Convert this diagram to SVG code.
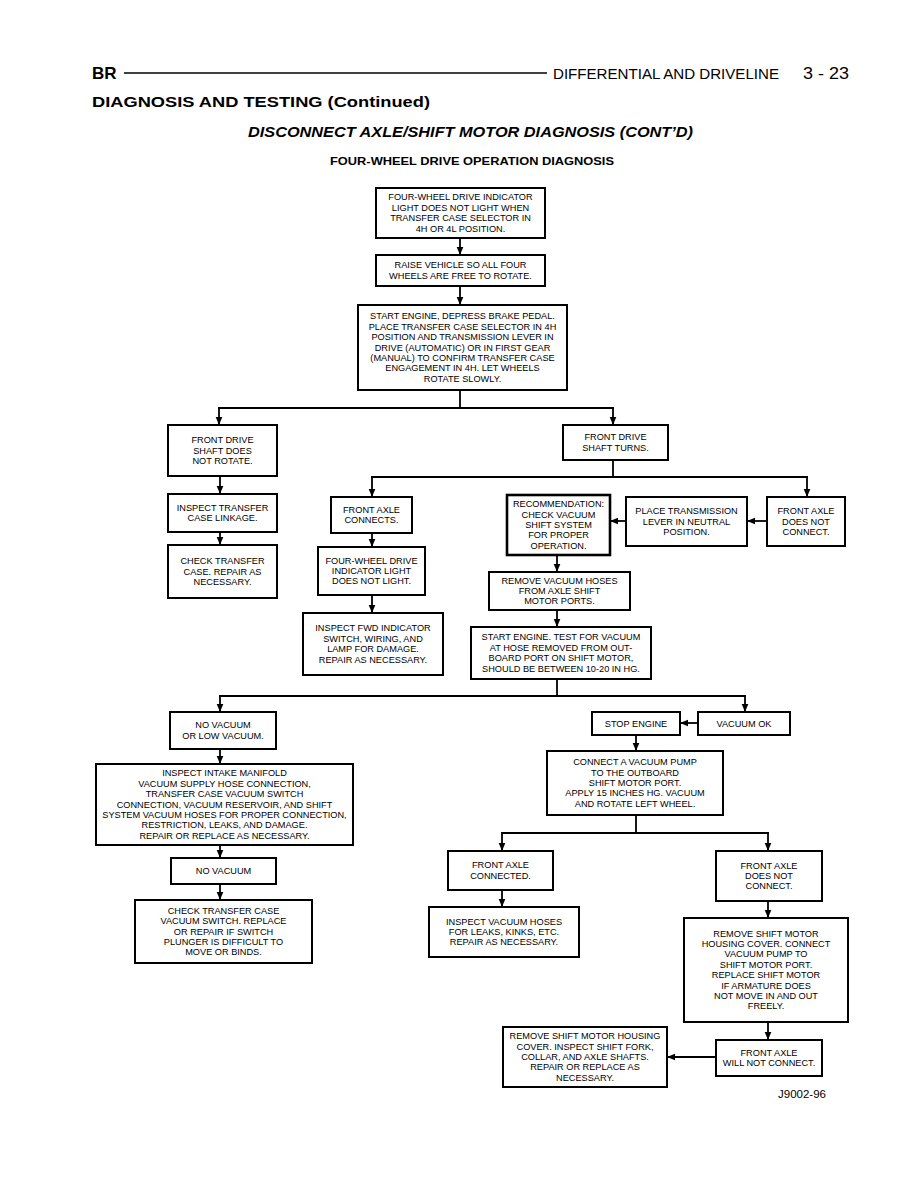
<svg xmlns="http://www.w3.org/2000/svg" width="918" height="1188" viewBox="0 0 918 1188">
<defs>
<marker id="ah" markerUnits="userSpaceOnUse" markerWidth="9" markerHeight="8" refX="8" refY="4" orient="auto">
<path d="M0,0.7 L8,4 L0,7.3 z" fill="#000"/>
</marker>
<style>
.bx{fill:#fff;stroke:#000;stroke-width:2}
.bxt{fill:#fff;stroke:#000;stroke-width:2.6}
.t{font-family:"Liberation Sans",Arial,sans-serif;font-size:9.2px;fill:#000;text-anchor:middle}
.c{fill:none;stroke:#000;stroke-width:1.8}
.a{fill:none;stroke:#000;stroke-width:1.8;marker-end:url(#ah)}
.h{font-family:"Liberation Sans",Arial,sans-serif;font-weight:bold;fill:#000}
</style>
</defs>
<rect width="918" height="1188" fill="#fff"/>
<g id="header">
<text class="h" x="92" y="79" font-size="17">BR</text>
<line x1="124" y1="73" x2="547" y2="73" stroke="#000" stroke-width="1.6"/>
<text x="553" y="79" font-family="Liberation Sans,Arial,sans-serif" font-size="15.5" textLength="226" lengthAdjust="spacingAndGlyphs">DIFFERENTIAL AND DRIVELINE</text>
<text x="803" y="79" font-family="Liberation Sans,Arial,sans-serif" font-size="16" textLength="46" lengthAdjust="spacingAndGlyphs">3 - 23</text>
<text class="h" x="92" y="107" font-size="15" textLength="338" lengthAdjust="spacingAndGlyphs">DIAGNOSIS AND TESTING (Continued)</text>
<text class="h" x="248" y="137" font-size="14" font-style="italic" textLength="445" lengthAdjust="spacingAndGlyphs">DISCONNECT AXLE/SHIFT MOTOR DIAGNOSIS (CONT’D)</text>
<text class="h" x="330" y="165" font-size="11" textLength="284" lengthAdjust="spacingAndGlyphs">FOUR-WHEEL DRIVE OPERATION DIAGNOSIS</text>
</g>
<g id="connectors">
<line class="a" x1="460" y1="238" x2="460" y2="255"/>
<line class="a" x1="460" y1="286" x2="460" y2="305"/>
<polyline class="c" points="460,390 460,408"/>
<polyline class="c" points="218,408 614,408"/>
<line class="a" x1="219" y1="408" x2="219" y2="425"/>
<line class="a" x1="613" y1="408" x2="613" y2="425"/>
<polyline class="c" points="613,460 613,477"/>
<polyline class="c" points="371,477 808,477"/>
<line class="a" x1="372" y1="477" x2="372" y2="497"/>
<line class="a" x1="807" y1="477" x2="807" y2="497"/>
<line class="a" x1="220" y1="476" x2="220" y2="494"/>
<line class="a" x1="220" y1="532" x2="220" y2="545"/>
<line class="a" x1="372" y1="533" x2="372" y2="547"/>
<line class="a" x1="372" y1="595" x2="372" y2="613"/>
<line class="a" x1="767" y1="521" x2="747" y2="521"/>
<line class="a" x1="626" y1="521" x2="610" y2="521"/>
<line class="a" x1="557" y1="555" x2="557" y2="572"/>
<line class="a" x1="557" y1="610" x2="557" y2="627"/>
<polyline class="c" points="557,679 557,696"/>
<polyline class="c" points="219,696 746,696"/>
<line class="a" x1="220" y1="696" x2="220" y2="712"/>
<line class="a" x1="745" y1="696" x2="745" y2="712"/>
<line class="a" x1="220" y1="749" x2="220" y2="764"/>
<line class="a" x1="220" y1="845" x2="220" y2="858"/>
<line class="a" x1="220" y1="884" x2="220" y2="900"/>
<line class="a" x1="698" y1="723" x2="680" y2="723"/>
<line class="a" x1="636" y1="735" x2="636" y2="751"/>
<polyline class="c" points="636,815 636,833"/>
<polyline class="c" points="501,833 769,833"/>
<line class="a" x1="502" y1="833" x2="502" y2="851"/>
<line class="a" x1="768" y1="833" x2="768" y2="851"/>
<line class="a" x1="502" y1="890" x2="502" y2="907"/>
<line class="a" x1="768" y1="901" x2="768" y2="918"/>
<line class="a" x1="768" y1="1022" x2="768" y2="1040"/>
<line class="a" x1="716" y1="1057" x2="667" y2="1057"/>
</g>
<g id="n1"><rect class="bx" x="376" y="188" width="169" height="50"/>
<text class="t" x="460.5" y="200.4">FOUR-WHEEL DRIVE INDICATOR</text>
<text class="t" x="460.5" y="210.8">LIGHT DOES NOT LIGHT WHEN</text>
<text class="t" x="460.5" y="221.2">TRANSFER CASE SELECTOR IN</text>
<text class="t" x="460.5" y="231.6">4H OR 4L POSITION.</text></g>
<g id="n2"><rect class="bx" x="376" y="255" width="169" height="31"/>
<text class="t" x="460.5" y="268.3">RAISE VEHICLE SO ALL FOUR</text>
<text class="t" x="460.5" y="278.7">WHEELS ARE FREE TO ROTATE.</text></g>
<g id="n3"><rect class="bx" x="358" y="305" width="209" height="85"/>
<text class="t" x="462.5" y="319.3">START ENGINE, DEPRESS BRAKE PEDAL.</text>
<text class="t" x="462.5" y="329.7">PLACE TRANSFER CASE SELECTOR IN 4H</text>
<text class="t" x="462.5" y="340.1">POSITION AND TRANSMISSION LEVER IN</text>
<text class="t" x="462.5" y="350.5">DRIVE (AUTOMATIC) OR IN FIRST GEAR</text>
<text class="t" x="462.5" y="360.9">(MANUAL) TO CONFIRM TRANSFER CASE</text>
<text class="t" x="462.5" y="371.3">ENGAGEMENT IN 4H. LET WHEELS</text>
<text class="t" x="462.5" y="381.7">ROTATE SLOWLY.</text></g>
<g id="n4"><rect class="bx" x="168" y="425" width="109" height="51"/>
<text class="t" x="222.5" y="443.1">FRONT DRIVE</text>
<text class="t" x="222.5" y="453.5">SHAFT DOES</text>
<text class="t" x="222.5" y="463.9">NOT ROTATE.</text></g>
<g id="n5"><rect class="bx" x="563" y="425" width="105" height="35"/>
<text class="t" x="615.5" y="440.3">FRONT DRIVE</text>
<text class="t" x="615.5" y="450.7">SHAFT TURNS.</text></g>
<g id="n6"><rect class="bx" x="168" y="494" width="109" height="38"/>
<text class="t" x="222.5" y="510.8">INSPECT TRANSFER</text>
<text class="t" x="222.5" y="521.2">CASE LINKAGE.</text></g>
<g id="n7"><rect class="bx" x="168" y="545" width="109" height="53"/>
<text class="t" x="222.5" y="564.1">CHECK TRANSFER</text>
<text class="t" x="222.5" y="574.5">CASE. REPAIR AS</text>
<text class="t" x="222.5" y="584.9">NECESSARY.</text></g>
<g id="n8"><rect class="bx" x="331" y="497" width="81" height="36"/>
<text class="t" x="371.5" y="512.8">FRONT AXLE</text>
<text class="t" x="371.5" y="523.2">CONNECTS.</text></g>
<g id="n9"><rect class="bx" x="318" y="547" width="107" height="48"/>
<text class="t" x="371.5" y="563.6">FOUR-WHEEL DRIVE</text>
<text class="t" x="371.5" y="574">INDICATOR LIGHT</text>
<text class="t" x="371.5" y="584.4">DOES NOT LIGHT.</text></g>
<g id="n10"><rect class="bx" x="303" y="613" width="140" height="62"/>
<text class="t" x="373" y="631.4">INSPECT FWD INDICATOR</text>
<text class="t" x="373" y="641.8">SWITCH, WIRING, AND</text>
<text class="t" x="373" y="652.2">LAMP FOR DAMAGE.</text>
<text class="t" x="373" y="662.6">REPAIR AS NECESSARY.</text></g>
<g id="n11"><rect class="bxt" x="507" y="495" width="103" height="60"/>
<text class="t" x="558.5" y="507.2">RECOMMENDATION:</text>
<text class="t" x="558.5" y="517.6">CHECK VACUUM</text>
<text class="t" x="558.5" y="528">SHIFT SYSTEM</text>
<text class="t" x="558.5" y="538.4">FOR PROPER</text>
<text class="t" x="558.5" y="548.8">OPERATION.</text></g>
<g id="n12"><rect class="bx" x="626" y="497" width="121" height="49"/>
<text class="t" x="686.5" y="514.1">PLACE TRANSMISSION</text>
<text class="t" x="686.5" y="524.5">LEVER IN NEUTRAL</text>
<text class="t" x="686.5" y="534.9">POSITION.</text></g>
<g id="n13"><rect class="bx" x="767" y="497" width="78" height="49"/>
<text class="t" x="806" y="514.1">FRONT AXLE</text>
<text class="t" x="806" y="524.5">DOES NOT</text>
<text class="t" x="806" y="534.9">CONNECT.</text></g>
<g id="n14"><rect class="bx" x="489" y="572" width="141" height="38"/>
<text class="t" x="559.5" y="583.6">REMOVE VACUUM HOSES</text>
<text class="t" x="559.5" y="594">FROM AXLE SHIFT</text>
<text class="t" x="559.5" y="604.4">MOTOR PORTS.</text></g>
<g id="n15"><rect class="bx" x="471" y="627" width="180" height="52"/>
<text class="t" x="561" y="640.4">START ENGINE. TEST FOR VACUUM</text>
<text class="t" x="561" y="650.8">AT HOSE REMOVED FROM OUT-</text>
<text class="t" x="561" y="661.2">BOARD PORT ON SHIFT MOTOR,</text>
<text class="t" x="561" y="671.6">SHOULD BE BETWEEN 10-20 IN HG.</text></g>
<g id="n16"><rect class="bx" x="170" y="712" width="106" height="37"/>
<text class="t" x="223" y="728.3">NO VACUUM</text>
<text class="t" x="223" y="738.7">OR LOW VACUUM.</text></g>
<g id="n17"><rect class="bx" x="96" y="764" width="257" height="81"/>
<text class="t" x="224.5" y="776.3">INSPECT INTAKE MANIFOLD</text>
<text class="t" x="224.5" y="786.7">VACUUM SUPPLY HOSE CONNECTION,</text>
<text class="t" x="224.5" y="797.1">TRANSFER CASE VACUUM SWITCH</text>
<text class="t" x="224.5" y="807.5">CONNECTION, VACUUM RESERVOIR, AND SHIFT</text>
<text class="t" x="224.5" y="817.9">SYSTEM VACUUM HOSES FOR PROPER CONNECTION,</text>
<text class="t" x="224.5" y="828.3">RESTRICTION, LEAKS, AND DAMAGE.</text>
<text class="t" x="224.5" y="838.7">REPAIR OR REPLACE AS NECESSARY.</text></g>
<g id="n18"><rect class="bx" x="171" y="858" width="105" height="26"/>
<text class="t" x="223.5" y="874">NO VACUUM</text></g>
<g id="n19"><rect class="bx" x="135" y="900" width="177" height="63"/>
<text class="t" x="223.5" y="913.7">CHECK TRANSFER CASE</text>
<text class="t" x="223.5" y="924.1">VACUUM SWITCH. REPLACE</text>
<text class="t" x="223.5" y="934.5">OR REPAIR IF SWITCH</text>
<text class="t" x="223.5" y="944.9">PLUNGER IS DIFFICULT TO</text>
<text class="t" x="223.5" y="955.3">MOVE OR BINDS.</text></g>
<g id="n20"><rect class="bx" x="592" y="712" width="88" height="23"/>
<text class="t" x="636" y="726.5">STOP ENGINE</text></g>
<g id="n21"><rect class="bx" x="698" y="712" width="92" height="23"/>
<text class="t" x="744" y="726.5">VACUUM OK</text></g>
<g id="n22"><rect class="bx" x="547" y="751" width="176" height="64"/>
<text class="t" x="635" y="765.2">CONNECT A VACUUM PUMP</text>
<text class="t" x="635" y="775.6">TO THE OUTBOARD</text>
<text class="t" x="635" y="786">SHIFT MOTOR PORT.</text>
<text class="t" x="635" y="796.4">APPLY 15 INCHES HG. VACUUM</text>
<text class="t" x="635" y="806.8">AND ROTATE LEFT WHEEL.</text></g>
<g id="n23"><rect class="bx" x="448" y="851" width="105" height="39"/>
<text class="t" x="500.5" y="868.3">FRONT AXLE</text>
<text class="t" x="500.5" y="878.7">CONNECTED.</text></g>
<g id="n24"><rect class="bx" x="429" y="907" width="150" height="50"/>
<text class="t" x="504" y="924.6">INSPECT VACUUM HOSES</text>
<text class="t" x="504" y="935">FOR LEAKS, KINKS, ETC.</text>
<text class="t" x="504" y="945.4">REPAIR AS NECESSARY.</text></g>
<g id="n25"><rect class="bx" x="716" y="851" width="106" height="50"/>
<text class="t" x="769" y="868.6">FRONT AXLE</text>
<text class="t" x="769" y="879">DOES NOT</text>
<text class="t" x="769" y="889.4">CONNECT.</text></g>
<g id="n26"><rect class="bx" x="684" y="918" width="164" height="104"/>
<text class="t" x="766" y="936.6">REMOVE SHIFT MOTOR</text>
<text class="t" x="766" y="947">HOUSING COVER. CONNECT</text>
<text class="t" x="766" y="957.4">VACUUM PUMP TO</text>
<text class="t" x="766" y="967.8">SHIFT MOTOR PORT.</text>
<text class="t" x="766" y="978.2">REPLACE SHIFT MOTOR</text>
<text class="t" x="766" y="988.6">IF ARMATURE DOES</text>
<text class="t" x="766" y="999">NOT MOVE IN AND OUT</text>
<text class="t" x="766" y="1009.4">FREELY.</text></g>
<g id="n27"><rect class="bx" x="716" y="1040" width="106" height="36"/>
<text class="t" x="769" y="1055.8">FRONT AXLE</text>
<text class="t" x="769" y="1066.2">WILL NOT CONNECT.</text></g>
<g id="n28"><rect class="bx" x="503" y="1027" width="164" height="60"/>
<text class="t" x="585" y="1039.2">REMOVE SHIFT MOTOR HOUSING</text>
<text class="t" x="585" y="1049.6">COVER. INSPECT SHIFT FORK,</text>
<text class="t" x="585" y="1060">COLLAR, AND AXLE SHAFTS.</text>
<text class="t" x="585" y="1070.4">REPAIR OR REPLACE AS</text>
<text class="t" x="585" y="1080.8">NECESSARY.</text></g>
<text x="802" y="1098" font-family="Liberation Sans,Arial,sans-serif" font-size="11.5" text-anchor="middle">J9002-96</text>
</svg>
